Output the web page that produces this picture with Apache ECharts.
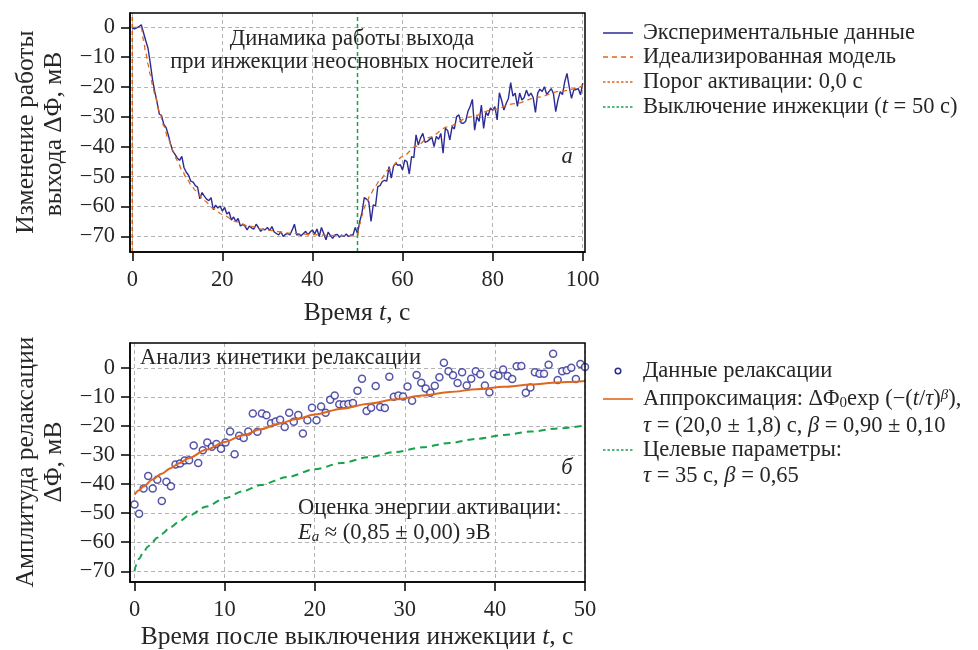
<!DOCTYPE html>
<html>
<head>
<meta charset="utf-8">
<script src="https://cdn.jsdelivr.net/npm/echarts@6/dist/echarts.min.js"></script>
<style>
  html, body { margin: 0; padding: 0; background: #fff; }
  #chart { width: 978px; height: 650px; }
</style>
</head>
<body>
<div id="chart"></div>
<script>
// ---- Panel (a): work-function transient under minority-carrier injection ----
const expTime = [
  0, 0.5, 1, 1.5, 2, 2.5, 3, 3.5, 4, 4.5, 5, 5.5, 6, 6.5, 7, 7.5, 8, 8.5, 9, 9.5,
  10, 10.5, 11, 11.5, 12, 12.5, 13, 13.5, 14, 14.5, 15, 15.5, 16, 16.5, 17, 17.5, 18, 18.5, 19, 19.5,
  20, 20.5, 21, 21.5, 22, 22.5, 23, 23.5, 24, 24.5, 25, 25.5, 26, 26.5, 27, 27.5, 28, 28.5, 29, 29.5,
  30, 30.5, 31, 31.5, 32, 32.5, 33, 33.5, 34, 34.5, 35, 35.5, 36, 36.5, 37, 37.5, 38, 38.5, 39, 39.5,
  40, 40.5, 41, 41.5, 42, 42.5, 43, 43.5, 44, 44.5, 45, 45.5, 46, 46.5, 47, 47.5, 48, 48.5, 49, 49.5,
  50, 50.5, 51, 51.5, 52, 52.5, 53, 53.5, 54, 54.5, 55, 55.5, 56, 56.5, 57, 57.5, 58, 58.5, 59, 59.5,
  60, 60.5, 61, 61.5, 62, 62.5, 63, 63.5, 64, 64.5, 65, 65.5, 66, 66.5, 67, 67.5, 68, 68.5, 69, 69.5,
  70, 70.5, 71, 71.5, 72, 72.5, 73, 73.5, 74, 74.5, 75, 75.5, 76, 76.5, 77, 77.5, 78, 78.5, 79, 79.5,
  80, 80.5, 81, 81.5, 82, 82.5, 83, 83.5, 84, 84.5, 85, 85.5, 86, 86.5, 87, 87.5, 88, 88.5, 89, 89.5,
  90, 90.5, 91, 91.5, 92, 92.5, 93, 93.5, 94, 94.5, 95, 95.5, 96, 96.5, 97, 97.5, 98, 98.5, 99, 99.5,
  100
];
const expValue = [
  -0.3, -0.5, -0.2, 0.2, 0.9, -1.8, -4.5, -7.0, -12.0, -17.5,
  -21.5, -25.0, -29.0, -29.5, -32.5, -33.5, -36.0, -39.0, -41.5, -42.5,
  -43.8, -44.5, -43.2, -47.0, -48.5, -49.5, -51.5, -51.8, -53.0, -53.5,
  -57.4, -55.3, -56.5, -57.5, -58.0, -57.0, -61.0, -59.5, -60.5, -59.8,
  -61.5, -60.3, -62.5, -61.8, -64.5, -63.5, -65.0, -64.0, -66.5, -66.0,
  -66.5, -67.8, -66.5, -67.2, -67.5, -65.9, -67.0, -68.3, -67.5, -67.8,
  -67.0, -68.0, -66.7, -68.5, -69.0, -69.5, -68.4, -70.0, -69.3, -69.0,
  -69.5, -67.8, -65.9, -69.5, -69.3, -69.7, -69.0, -68.3, -69.5, -68.5,
  -67.8, -69.2, -67.5, -70.0, -67.0, -69.0, -71.1, -68.5, -69.8, -70.6,
  -69.5, -69.3, -70.3, -69.5, -70.0, -69.2, -70.0, -69.5, -69.5, -67.0,
  -69.0, -65.0, -62.0, -57.0, -57.5, -58.3, -65.0, -59.4, -59.8, -53.3,
  -53.0, -51.6, -51.2, -51.5, -46.6, -50.5, -46.5, -45.5, -46.2, -46.0,
  -47.7, -44.4, -45.0, -49.1, -43.3, -43.6, -36.0, -39.4, -37.0, -35.5,
  -38.5, -38.2, -37.5, -36.8, -39.9, -36.5, -37.5, -35.5, -42.1, -33.8,
  -34.5, -37.7, -33.2, -34.0, -29.9, -29.3, -32.0, -32.1, -31.5, -28.2,
  -26.5, -24.1, -34.4, -29.9, -31.5, -26.0, -33.8, -28.5, -29.5, -27.0,
  -27.8, -26.5, -31.0, -21.9, -24.5, -27.7, -25.5, -23.8, -18.5, -23.0,
  -22.0, -26.5, -22.0, -24.3, -23.5, -21.0, -23.0, -22.0, -23.5, -28.5,
  -22.0, -20.7, -21.5, -19.9, -22.5, -21.5, -20.5, -22.2, -28.2, -24.3,
  -21.5, -22.5, -18.2, -15.4, -19.9, -23.8, -21.0, -20.8, -20.5, -22.6,
  -18.7
];
const modelTime = [
  0, 1, 2, 2.5, 3, 3.5, 4, 4.5, 5, 6, 7, 8, 9, 10, 11, 12, 13, 14, 16, 18, 20, 23, 26, 30, 35, 40, 45, 50,
  50.5, 51, 51.5, 52, 53, 54, 55, 57, 60, 63, 66, 70, 75, 80, 85, 90, 95, 100
];
const modelValue = [
  0, 0, 0, -4.3, -8.5, -12.4, -15.9, -19.3, -22.4, -28.0, -33.0, -37.4, -41.2, -44.6, -47.7, -50.3, -52.6, -54.6, -58.0, -60.6, -62.7, -65.0, -66.6, -67.9, -68.9, -69.4, -69.7, -69.8,
  -66.0, -63.0, -60.5, -58.5, -55.5, -53.0, -51.0, -47.5, -43.3, -39.8, -36.8, -33.3, -30.0, -27.6, -25.5, -23.4, -21.4, -19.6
];
const thresholdTime = 0;      // activation threshold, s
const injectionOffTime = 50;  // injection switched off, s

const xTicksA = [0, 20, 40, 60, 80, 100];
const yTicksA = [-70, -60, -50, -40, -30, -20, -10, 0];
const xRangeA = [-0.5, 100.5];
const yRangeA = [-75.2, 4.8];

// ---- Panel (b): relaxation after injection switch-off ----
const relaxTime = [
  0, 0.51, 1.01, 1.52, 2.02, 2.53, 3.03, 3.54, 4.04, 4.55, 5.05, 5.56, 6.06, 6.57, 7.07, 7.58, 8.08, 8.59, 9.09, 9.6,
  10.1, 10.61, 11.11, 11.62, 12.12, 12.63, 13.13, 13.64, 14.14, 14.65, 15.15, 15.66, 16.16, 16.67, 17.17, 17.68, 18.18, 18.69, 19.19, 19.7,
  20.2, 20.71, 21.21, 21.72, 22.22, 22.73, 23.23, 23.74, 24.24, 24.75, 25.25, 25.76, 26.26, 26.77, 27.27, 27.78, 28.28, 28.79, 29.29, 29.8,
  30.3, 30.81, 31.31, 31.82, 32.32, 32.83, 33.33, 33.84, 34.34, 34.85, 35.35, 35.86, 36.36, 36.87, 37.37, 37.88, 38.38, 38.89, 39.39, 39.9,
  40.4, 40.91, 41.41, 41.92, 42.42, 42.93, 43.43, 43.94, 44.44, 44.95, 45.45, 45.96, 46.46, 46.97, 47.47, 47.98, 48.48, 48.99, 49.49, 50
];
const relaxValue = [
  -47.0, -50.2, -41.5, -37.2, -41.5, -38.5, -45.8, -39.2, -40.7, -33.2,
  -32.9, -31.9, -31.8, -26.7, -32.7, -28.3, -25.7, -27.1, -26.2, -27.8,
  -25.7, -21.9, -29.7, -23.3, -24.1, -21.9, -15.7, -22.0, -15.7, -16.3,
  -19.0, -18.4, -17.8, -20.3, -15.4, -18.5, -16.2, -22.6, -18.0, -13.7,
  -18.0, -13.3, -15.4, -10.9, -9.5, -12.5, -12.6, -12.4, -12.1, -7.8,
  -3.7, -14.8, -13.7, -6.2, -13.4, -13.8, -3.0, -9.9, -9.5, -9.8,
  -6.4, -11.3, -2.4, -5.1, -7.1, -8.5, -6.1, -3.2, 1.8, -1.1,
  -2.5, -5.2, -1.5, -6.0, -3.7, -1.1, -2.2, -6.0, -8.4, -2.1,
  -2.7, -0.5, -2.8, -3.8, 0.6, 0.7, -8.5, -6.7, -1.5, -2.0,
  -2.0, 1.1, 4.9, -4.1, -1.1, -0.8, 0.1, -3.8, 1.4, 0.3
];
const fitTime = [0, 0.5, 1, 2, 3, 4, 5, 6, 8, 10, 12, 14, 16, 18, 20, 23, 26, 29, 32, 35, 38, 41, 44, 47, 50];
const fitValue = [-43.6, -42.1, -40.8, -38.4, -36.4, -34.5, -32.7, -31.1, -28.1, -25.5, -23.2, -21.1, -19.2, -17.6, -16.0, -14.0, -12.3, -10.8, -9.5, -8.3, -7.3, -6.5, -5.7, -5.0, -4.5];
const targetTime = [0, 0.1, 0.25, 0.5, 1, 1.5, 2, 2.5, 3, 4, 5, 6, 8, 10, 12, 14, 17, 20, 23, 26, 29, 32, 35, 38, 41, 44, 47, 50];
const targetValue = [-70.0, -68.5, -67.2, -65.7, -63.4, -61.5, -59.9, -58.5, -57.2, -54.8, -52.8, -50.9, -47.7, -44.9, -42.5, -40.3, -37.5, -34.9, -32.7, -30.7, -28.9, -27.3, -25.8, -24.4, -23.1, -21.9, -20.8, -19.8];

const xTicksB = [0, 10, 20, 30, 40, 50];
const yTicksB = [-70, -60, -50, -40, -30, -20, -10, 0];
const xRangeB = [-0.5, 50];
const yRangeB = [-73.7, 8.6];

// ---- styling ----
const FONT = '"Liberation Serif", "DejaVu Serif", serif';
const TEXT = '#262626';
const BLUE = '#2b2b93';
const ORANGE = '#e0661c';
const GREEN = '#16a34a';
const GRID_COLOR = '#b4b4b4';

const zip = (xs, ys) => xs.map((x, i) => [x, ys[i]]);
const minusSign = v => String(v).replace('-', '\u2212');

function axisCommon(range, ticks, step, margin) {
  return {
    type: 'value', min: range[0], max: range[1],
    minInterval: step, maxInterval: step,
    axisLine: { show: true, onZero: false, lineStyle: { color: '#000', width: 1.5 } },
    axisTick: { show: true, customValues: ticks, length: 9, lineStyle: { color: '#000', width: 1.5 } },
    axisLabel: { customValues: ticks, formatter: minusSign, margin, color: TEXT, fontFamily: FONT, fontSize: 22.5 },
    splitLine: { show: true, lineStyle: { color: GRID_COLOR, width: 1, type: [4, 3] } }
  };
}
const makeX = (g, r, t, s) => Object.assign(axisCommon(r, t, s, 17), { gridIndex: g });
const makeY = (g, r, t, s) => Object.assign(axisCommon(r, t, s, 15), { gridIndex: g });

// rich-text styles at a given base size: normal, italic, subscript, superscript
function richAt(size) {
  const small = Math.round(size * 0.66);
  return {
    n: { fontFamily: FONT, fontSize: size, color: TEXT },
    i: { fontFamily: FONT, fontSize: size, fontStyle: 'italic', color: TEXT },
    sub: { fontFamily: FONT, fontSize: small, fontStyle: 'italic', color: TEXT, verticalAlign: 'bottom' },
    sub0: { fontFamily: FONT, fontSize: small, color: TEXT, verticalAlign: 'bottom' },
    sup: { fontFamily: FONT, fontSize: small, fontStyle: 'italic', color: TEXT, verticalAlign: 'top' }
  };
}
function label(x, y, text, opts = {}) {
  const size = opts.size || 22.5;
  return {
    type: 'text', x, y, rotation: opts.rotation || 0, z: 100,
    style: {
      text, rich: richAt(size), fontFamily: FONT, fontSize: size, fill: TEXT,
      align: opts.align || 'left', verticalAlign: 'middle'
    }
  };
}
function legendLine(y, color, dash, width) {
  return {
    type: 'line', z: 100,
    shape: { x1: 603, y1: y, x2: 633, y2: y },
    style: { stroke: color, lineWidth: width || 1.5, lineDash: dash || null }
  };
}

const AXIS_TITLE = 25.5;
const graphics = [
  // frames
  { type: 'rect', z: 90, shape: { x: 130, y: 13, width: 455, height: 239 }, style: { fill: null, stroke: '#000', lineWidth: 1.5 } },
  { type: 'rect', z: 90, shape: { x: 130, y: 343, width: 455, height: 239 }, style: { fill: null, stroke: '#000', lineWidth: 1.5 } },

  // axis titles
  label(357, 313, '{n|Время }{i|t}{n|, с}', { align: 'center', size: AXIS_TITLE }),
  label(357, 637, '{n|Время после выключения инжекции }{i|t}{n|, с}', { align: 'center', size: AXIS_TITLE }),
  label(26, 132, '{n|Изменение работы}', { align: 'center', rotation: Math.PI / 2, size: AXIS_TITLE }),
  label(54, 134, '{n|выхода ΔΦ, мВ}', { align: 'center', rotation: Math.PI / 2, size: AXIS_TITLE }),
  label(26, 462, '{n|Амплитуда релаксации}', { align: 'center', rotation: Math.PI / 2, size: AXIS_TITLE }),
  label(54, 462, '{n|ΔΦ, мВ}', { align: 'center', rotation: Math.PI / 2, size: AXIS_TITLE }),

  // panel annotations
  label(352, 39, '{n|Динамика работы выхода}', { align: 'center' }),
  label(352, 62, '{n|при инжекции неосновных носителей}', { align: 'center' }),
  label(567, 157, '{i|а}', { align: 'center' }),
  label(140, 358, '{n|Анализ кинетики релаксации}'),
  label(567, 468, '{i|б}', { align: 'center' }),
  label(298, 508, '{n|Оценка энергии активации:}'),
  label(298, 533, '{i|E}{sub|a}{n| ≈ (0,85 ± 0,00) эВ}'),

  // legend, panel (a)
  legendLine(33, BLUE, null, 1.5),
  label(643, 33, '{n|Экспериментальные данные}'),
  legendLine(57, ORANGE, [5, 4], 1.3),
  label(643, 57, '{n|Идеализированная модель}'),
  legendLine(82, ORANGE, [2.5, 2], 1.3),
  label(643, 82, '{n|Порог активации: 0,0 с}'),
  legendLine(107, GREEN, [2.5, 2], 1.3),
  label(643, 107, '{n|Выключение инжекции (}{i|t}{n| = 50 с)}'),

  // legend, panel (b)
  { type: 'circle', z: 100, shape: { cx: 618, cy: 371, r: 2.8 }, style: { fill: '#fff', stroke: BLUE, lineWidth: 1.5 } },
  label(643, 371, '{n|Данные релаксации}'),
  legendLine(399, ORANGE, null, 1.6),
  label(643, 399, '{n|Аппроксимация: ΔΦ}{sub0|0}{n|exp (−(}{i|t}{n|/}{i|τ}{n|)}{sup|β}{n|),}'),
  label(643, 426, '{i|τ}{n| = (20,0 ± 1,8) с, }{i|β}{n| = 0,90 ± 0,10}'),
  legendLine(450, GREEN, [2.5, 2], 1.3),
  label(643, 450, '{n|Целевые параметры:}'),
  label(643, 476, '{i|τ}{n| = 35 с, }{i|β}{n| = 0,65}')
];

const option = {
  animation: false,
  backgroundColor: '#fff',
  grid: [
    { left: 130, top: 13, width: 455, height: 239 },
    { left: 130, top: 343, width: 455, height: 239 }
  ],
  xAxis: [makeX(0, xRangeA, xTicksA, 20), makeX(1, xRangeB, xTicksB, 10)],
  yAxis: [makeY(0, yRangeA, yTicksA, 10), makeY(1, yRangeB, yTicksB, 10)],
  series: [
    {
      name: 'Экспериментальные данные', type: 'line', xAxisIndex: 0, yAxisIndex: 0,
      data: zip(expTime, expValue), showSymbol: false, z: 3,
      lineStyle: { color: BLUE, width: 1.4 }
    },
    {
      name: 'Идеализированная модель', type: 'line', xAxisIndex: 0, yAxisIndex: 0,
      data: zip(modelTime, modelValue), showSymbol: false, smooth: 0.3, smoothMonotone: 'x', z: 4,
      lineStyle: { color: ORANGE, width: 1.3, type: [5, 4] }
    },
    {
      name: 'Порог активации', type: 'line', xAxisIndex: 0, yAxisIndex: 0,
      data: [[thresholdTime, yRangeA[0]], [thresholdTime, yRangeA[1]]], showSymbol: false, z: 5,
      lineStyle: { color: ORANGE, width: 1.5, type: [4, 3] }
    },
    {
      name: 'Выключение инжекции', type: 'line', xAxisIndex: 0, yAxisIndex: 0,
      data: [[injectionOffTime, yRangeA[0]], [injectionOffTime, yRangeA[1]]], showSymbol: false, z: 5,
      lineStyle: { color: GREEN, width: 1.5, type: [4, 3] }
    },
    {
      name: 'Данные релаксации', type: 'scatter', xAxisIndex: 1, yAxisIndex: 1,
      data: zip(relaxTime, relaxValue), symbol: 'circle', symbolSize: 7, z: 3,
      itemStyle: { color: '#fff', borderColor: BLUE, borderWidth: 1.5 }
    },
    {
      name: 'Аппроксимация', type: 'line', xAxisIndex: 1, yAxisIndex: 1,
      data: zip(fitTime, fitValue), showSymbol: false, smooth: 0.3, smoothMonotone: 'x', z: 4,
      lineStyle: { color: ORANGE, width: 2 }
    },
    {
      name: 'Целевые параметры', type: 'line', xAxisIndex: 1, yAxisIndex: 1,
      data: zip(targetTime, targetValue), showSymbol: false, smooth: 0.3, smoothMonotone: 'x', z: 4,
      lineStyle: { color: GREEN, width: 2, type: [7, 5] }
    }
  ],
  graphic: graphics
};

const chart = echarts.init(document.getElementById('chart'), null, { renderer: 'canvas' });
chart.setOption(option);
</script>
</body>
</html>
